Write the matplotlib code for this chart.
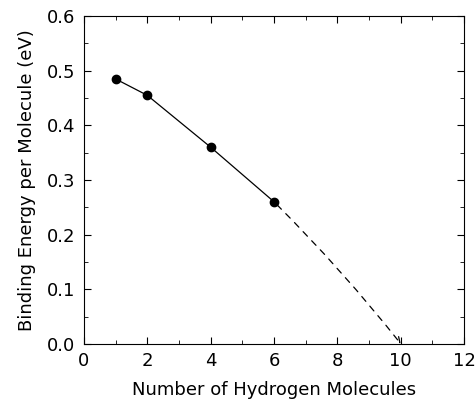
import matplotlib.pyplot as plt
from matplotlib.ticker import MultipleLocator

# Binding energy vs number of H2 molecules
n_molecules = [1, 2, 4, 6]
binding_energy = [0.485, 0.455, 0.360, 0.260]

# dashed extrapolation end point
extrap_x = [6, 10]
extrap_y = [0.260, 0.0]

plt.rcParams['font.family'] = ['DejaVu Sans']

fig = plt.figure(figsize=(4.77, 4.04), dpi=100)
ax = fig.add_axes([0.176, 0.149, 0.797, 0.811])

ax.plot(n_molecules, binding_energy, color='black', linewidth=0.9,
        marker='o', markersize=6)

ax.annotate('', xy=(extrap_x[1], extrap_y[1]), xytext=(extrap_x[0], extrap_y[0]),
            arrowprops=dict(arrowstyle='->', linestyle=(0, (5, 5)), color='black',
                            linewidth=0.9, shrinkA=3, shrinkB=0,
                            mutation_scale=10,
                            connectionstyle='arc3,rad=-0.03'))

ax.set_xlim(0, 12)
ax.set_ylim(0, 0.6)
ax.xaxis.set_major_locator(MultipleLocator(2))
ax.xaxis.set_minor_locator(MultipleLocator(1))
ax.yaxis.set_major_locator(MultipleLocator(0.1))
ax.yaxis.set_minor_locator(MultipleLocator(0.05))
ax.yaxis.set_major_formatter(plt.FormatStrFormatter('%.1f'))

ax.tick_params(which='both', direction='in', top=True, right=True, labelsize=13)
ax.tick_params(which='major', length=5, pad=6)
ax.tick_params(which='minor', length=3)

ax.set_xlabel('Number of Hydrogen Molecules', fontsize=13, labelpad=8)
ax.set_ylabel('Binding Energy per Molecule (eV)', fontsize=13, labelpad=8)

fig.savefig('out.png', dpi=100)
